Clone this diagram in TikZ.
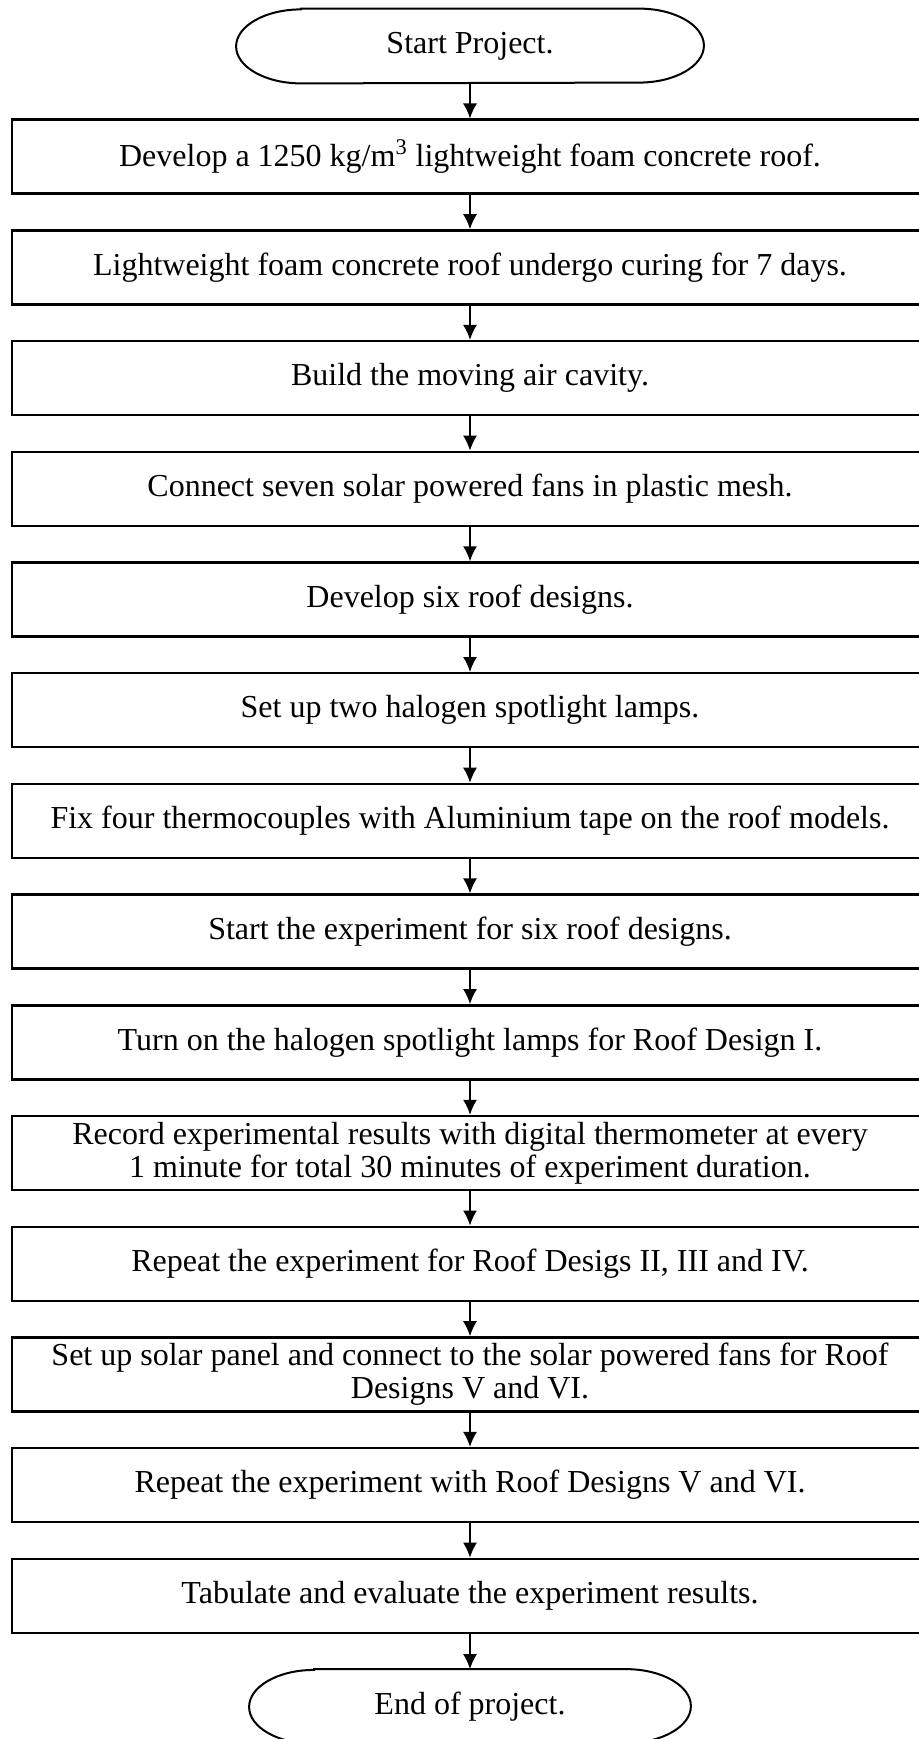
\documentclass[tikz,border=0pt]{standalone}
\usepackage{fontspec}
\setmainfont{Liberation Serif}
\usetikzlibrary{positioning, arrows.meta}

\tikzset{
  stepbox/.style={draw, line width=1.2pt, minimum width=458pt, minimum height=37pt,
    inner sep=0pt, align=center, font=\fontsize{16pt}{16.5pt}\selectfont},
  term/.style={minimum height=37pt, inner sep=0pt, font=\fontsize{16pt}{16.5pt}\selectfont},
  flow/.style={-{Latex[length=7.5pt,width=7pt]}, line width=0.8pt},
}

\begin{document}
\begin{tikzpicture}[node distance=55.35pt, on grid]
   \clip (0,0) rectangle (459.5pt,-869.5pt);
   % start
   \node[term, minimum width=233.5pt] (start) at (235pt,-23pt) {Start Project.};
   % steps
   \node[stepbox] (s1) [below=of start] {Develop a 1250 kg/m\textsuperscript{3} lightweight foam concrete roof.};
   \node[stepbox] (s2) [below=of s1] {Lightweight foam concrete roof undergo curing for 7 days.};
   \node[stepbox] (s3) [below=of s2] {Build the moving air cavity.};
   \node[stepbox] (s4) [below=of s3] {Connect seven solar powered fans in plastic mesh.};
   \node[stepbox] (s5) [below=of s4] {Develop six roof designs.};
   \node[stepbox] (s6) [below=of s5] {Set up two halogen spotlight lamps.};
   \node[stepbox] (s7) [below=of s6] {Fix four thermocouples with Aluminium tape on the roof models.};
   \node[stepbox] (s8) [below=of s7] {Start the experiment for six roof designs.};
   \node[stepbox] (s9) [below=of s8] {Turn on the halogen spotlight lamps for Roof Design I.};
   \node[stepbox] (s10) [below=of s9] {Record experimental results with digital thermometer at every\\1 minute for total 30 minutes of experiment duration.};
   \node[stepbox] (s11) [below=of s10] {Repeat the experiment for Roof Desigs II, III and IV.};
   \node[stepbox] (s12) [below=of s11] {Set up solar panel and connect to the solar powered fans for Roof\\Designs V and VI.};
   \node[stepbox] (s13) [below=of s12] {Repeat the experiment with Roof Designs V and VI.};
   \node[stepbox] (s14) [below=of s13] {Tabulate and evaluate the experiment results.};
   % end
   \node[term, minimum width=220.5pt] (end) [below=of s14] {End of project.};

   % terminal outlines
   \foreach \t in {start,end}
     \draw[line width=1pt] ([xshift=32.5pt]\t.north west) -- ([xshift=-32.5pt]\t.north east)
       arc[start angle=90, end angle=-90, x radius=32.5pt, y radius=18.5pt]
       -- ([xshift=32.5pt]\t.south west)
       arc[start angle=270, end angle=90, x radius=32.5pt, y radius=18.5pt] -- cycle;

   % arrows
   \foreach \a/\b in {start/s1, s1/s2, s2/s3, s3/s4, s4/s5, s5/s6, s6/s7, s7/s8,
                      s8/s9, s9/s10, s10/s11, s11/s12, s12/s13, s13/s14, s14/end}
     \draw[flow] (\a) -- (\b);
\end{tikzpicture}
\end{document}
